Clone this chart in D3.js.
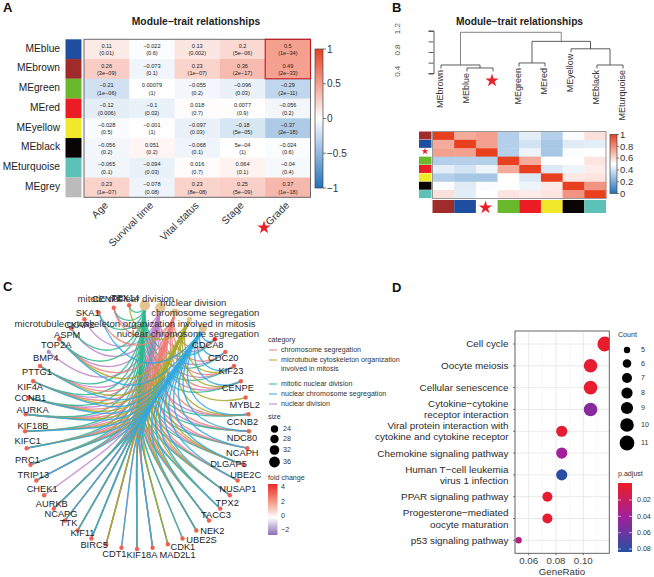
<!DOCTYPE html>
<html><head><meta charset="utf-8">
<script src="https://cdnjs.cloudflare.com/ajax/libs/d3/7.8.5/d3.min.js"></script>
<style>html,body{margin:0;padding:0;background:#fff}svg{display:block}text{font-family:"Liberation Sans",Arial,sans-serif}</style>
</head><body><svg id="c" width="654" height="577"></svg>
<script>
// ---------- Panel A data
const modules = ["MEblue","MEbrown","MEgreen","MEred","MEyellow","MEblack","MEturquoise","MEgrey"];
const moduleColors = ["#1f4ea1","#a02b2b","#6ab82b","#ec1c24","#f0e82a","#0a0505","#5cc1b6","#bbbbbb"];
const traits = ["Age","Survival time","Vital status","Stage","Grade"];
const corrValues = [
 [0.11,-0.022,0.13,0.2,0.5],
 [0.26,-0.073,0.23,0.36,0.49],
 [-0.21,0.00079,-0.055,-0.096,-0.29],
 [-0.12,-0.1,0.018,0.0077,-0.056],
 [-0.028,-0.001,-0.097,-0.18,-0.37],
 [-0.056,0.051,-0.068,5e-4,-0.024],
 [-0.065,-0.094,0.016,0.064,-0.04],
 [0.23,-0.078,0.23,0.25,0.37]];
const corrLabels = [
 ["0.11","−0.022","0.13","0.2","0.5"],
 ["0.26","−0.073","0.23","0.36","0.49"],
 ["−0.21","0.00079","−0.055","−0.096","−0.29"],
 ["−0.12","−0.1","0.018","0.0077","−0.056"],
 ["−0.028","−0.001","−0.097","−0.18","−0.37"],
 ["−0.056","0.051","−0.068","5e−04","−0.024"],
 ["−0.065","−0.094","0.016","0.064","−0.04"],
 ["0.23","−0.078","0.23","0.25","0.37"]];
const pLabels = [
 ["(0.01)","(0.6)","(0.002)","(5e−06)","(1e−34)"],
 ["(3e−09)","(0.1)","(1e−07)","(2e−17)","(2e−33)"],
 ["(1e−06)","(1)","(0.2)","(0.03)","(2e−11)"],
 ["(0.006)","(0.02)","(0.7)","(0.9)","(0.2)"],
 ["(0.5)","(1)","(0.03)","(5e−05)","(2e−18)"],
 ["(0.2)","(0.2)","(0.1)","(1)","(0.6)"],
 ["(0.1)","(0.03)","(0.7)","(0.1)","(0.4)"],
 ["(1e−07)","(0.08)","(8e−08)","(5e−09)","(1e−18)"]];
const corrTicks = [1,0.5,0,-0.5,-1];
// ---------- Panel B data
const dendroLeaves = ["MEbrown","MEblue","","MEgreen","MEred","MEyellow","MEblack","MEturquoise"];
const dendroColors = ["#a02b2b","#1f4ea1",null,"#6ab82b","#ec1c24","#f0e82a","#0a0505","#5cc1b6"];
const dendroMerges = [ // [id, left child, right child, height]; numbers are leaf indexes, strings are merge ids
 ["m1",1,2,0.50],["m2",0,"m1",0.556],["m3",3,4,0.594],["m4",6,7,0.556],
 ["m5",5,"m4",0.86],["m6","m3","m5",1.0],["m7","m2","m6",1.17]];
const dendroTicks = [1.2,1.0,0.8,0.6,0.4];
const dendroTickLabels = [1.2,0.8,0.4];
const adjacency = [
 [1,.72,.75,.33,.44,.33,.49,.58],
 [.72,1,.75,.33,.40,.30,.43,.44],
 [.75,.75,1,.33,.46,.30,.49,.50],
 [.33,.33,.33,1,.72,.50,.50,.57],
 [.44,.40,.46,.72,1,.42,.46,.55],
 [.33,.30,.30,.50,.42,1,.56,.57],
 [.49,.43,.49,.50,.46,.56,1,.78],
 [.58,.44,.50,.57,.55,.57,.78,1]];
const adjTicks = [1,0.8,0.6,0.4,0.2,0];
// ---------- Panel C data
const genes = ["CDCA8","CDC20","KIF23","CENPE","MYBL2","CCNB2","NDC80","NCAPH","DLGAP5","UBE2C","NUSAP1","TPX2","TACC3","NEK2","UBE2S","CDK1","MAD2L1","KIF18A","CDT1","BIRC5","KIF11","TTK","NCAPG","AURKB","CHEK1","TRIP13","PRC1","KIFC1","KIF18B","AURKA","CCNB1","KIF4A","PTTG1","BMP4","TOP2A","ASPM","CKAP2","SKA1","CENPF","TEX14"];
const foldChange = [4.4,3,3,3,3,3,3,3,3,3,3,3,3,3,3,3,3,3,3,3,3,3,3,3,3,3,3,3,3,3,3,3,3,-1.5,3,3,3,3,3,3];
const categories = ["mitotic nuclear division","nuclear division","chromosome segregation","microtubule cytoskeleton organization involved in mitosis","nuclear chromosome segregation"];
const categorySize = [36,36,30,24,30];
const legendCategories = ["chromosome segregation","microtubule cytoskeleton organization","mitotic nuclear division","nuclear chromosome segregation","nuclear division"];
const catColor = ["#2bb98c","#bf7fc8","#ee7f76","#a8a82a","#2fa8e0"];
const memMitotic = ["CDCA8","CDC20","KIF23","CENPE","CCNB2","NDC80","NCAPH","DLGAP5","UBE2C","NUSAP1","TACC3","NEK2","CDK1","MAD2L1","KIF18A","BIRC5","TTK","NCAPG","AURKB","TRIP13","PRC1","KIFC1","KIF18B","AURKA","CCNB1","KIF4A","PTTG1","TOP2A","ASPM","CENPF","TPX2","KIF11","UBE2C","TEX14","SKA1","UBE2S"];
const memDivision = ["CDC20","KIF23","CENPE","CCNB2","NDC80","NCAPH","DLGAP5","UBE2C","NUSAP1","TACC3","NEK2","UBE2S","CDK1","MAD2L1","KIF18A","BIRC5","TTK","NCAPG","AURKB","CHEK1","TRIP13","PRC1","KIFC1","KIF18B","AURKA","CCNB1","KIF4A","PTTG1","BMP4","TOP2A","ASPM","CKAP2","CENPF","TPX2","KIF11","CDCA8"];
const memChrom = ["CDCA8","CDC20","KIF23","CENPE","CCNB2","NDC80","NCAPH","DLGAP5","UBE2C","NUSAP1","NEK2","MAD2L1","KIF18A","CDT1","BIRC5","TTK","NCAPG","AURKB","TRIP13","PRC1","KIF18B","AURKA","CCNB1","KIF4A","PTTG1","TOP2A","SKA1","CENPF","KIFC1","TACC3"];
const memMicro = ["KIF23","CENPE","MYBL2","TPX2","BIRC5","KIF11","AURKA","KIF4A","KIFC1","NUSAP1","PRC1","TACC3","TEX14","CDK1","CCNB1","KIF18A","TTK","NEK2","KIF18B","DLGAP5","PTTG1","TOP2A","AURKB","CCNB2"];
const memNucChrom = ["CDCA8","CDC20","KIF23","CENPE","CCNB2","NDC80","NCAPH","DLGAP5","UBE2C","NUSAP1","TPX2","TACC3","NEK2","MAD2L1","KIF18A","CDT1","KIF11","TTK","NCAPG","AURKB","TRIP13","PRC1","KIFC1","KIF18B","CCNB1","PTTG1","TOP2A","SKA1","AURKA","KIF4A"];
const memberships = [memMitotic,memDivision,memChrom,memMicro,memNucChrom];
const sizeLegend = [24,28,32,36];
const foldTicks = [4,2,0,-2];
// ---------- Panel D data
const pathways = [["Cell cycle"],["Oocyte meiosis"],["Cellular senescence"],["Cytokine−cytokine","receptor interaction"],["Viral protein interaction with","cytokine and cytokine receptor"],["Chemokine signaling pathway"],["Human T−cell leukemia","virus 1 infection"],["PPAR signaling pathway"],["Progesterone−mediated","oocyte maturation"],["p53 signaling pathway"]];
const geneRatio = [0.1158,0.1053,0.1053,0.1053,0.0842,0.0842,0.0842,0.0737,0.0737,0.0526];
const geneCount = [11,10,10,10,8,8,8,7,7,5];
const pAdjust = [0.002,0.004,0.004,0.05,0.005,0.04,0.083,0.004,0.004,0.03];
const ratioTicks = [0.06,0.08,0.10];
const countLegend = [5,6,7,8,9,10,11];
const pTicks = [0.02,0.04,0.06,0.08];

const svg = d3.select("#c");
const defs = svg.append("defs");
const starPath = d3.symbol().type(d3.symbolStar);
function star(g,x,y,r){g.append("path").attr("d",starPath.size(r*r*1.12)()).attr("transform",`translate(${x},${y+r*.08})`).attr("fill","#e8202a");}
function gradient(id,stops){const gr=defs.append("linearGradient").attr("id",id).attr("x1",0).attr("x2",0).attr("y1",0).attr("y2",1);
 stops.forEach(([o,c])=>gr.append("stop").attr("offset",o).attr("stop-color",c));return `url(#${id})`;}
function letter(t,x,y){svg.append("text").attr("x",x).attr("y",y).attr("font-size",13).attr("font-weight","bold").attr("fill","#111").text(t);}
letter("A",3,12);letter("B",392,12);letter("C",3,291);letter("D",392,292);

// ================= Panel A
(function(){
 const g=svg.append("g");
 const x=d3.scaleBand().domain(traits).range([84,310.5]);
 const y=d3.scaleBand().domain(modules).range([39.3,197.3]);
 const col=d3.scaleLinear().domain([-1,0,1]).range(["#2272bf","#ffffff","#e8401f"]);
 g.append("text").attr("x",196).attr("y",24.5).attr("text-anchor","middle").attr("font-size",10.3).attr("font-weight","bold").attr("fill","#222").text("Module−trait relationships");
 modules.forEach((m,i)=>{
  g.append("rect").attr("x",65.5).attr("y",y(m)).attr("width",16).attr("height",y.bandwidth()).attr("fill",moduleColors[i]);
  g.append("text").attr("x",60).attr("y",y(m)+y.bandwidth()/2-1).attr("dy","0.35em").attr("text-anchor","end").attr("font-size",10.2).attr("fill","#222").text(m);
  traits.forEach((t,j)=>{
   g.append("rect").attr("x",x(t)).attr("y",y(m)).attr("width",x.bandwidth()+.5).attr("height",y.bandwidth()+.5).attr("fill",col(corrValues[i][j]));
   g.append("text").attr("x",x(t)+x.bandwidth()/2).attr("y",y(m)+8.5).attr("text-anchor","middle").attr("font-size",5.6).attr("fill","#222").text(corrLabels[i][j]);
   g.append("text").attr("x",x(t)+x.bandwidth()/2).attr("y",y(m)+16).attr("text-anchor","middle").attr("font-size",5.6).attr("fill","#222").text(pLabels[i][j]);
  });
 });
 g.append("rect").attr("x",84).attr("y",39.3).attr("width",226.5).attr("height",158).attr("fill","none").attr("stroke","#6b6b6b").attr("stroke-width",1);
 g.append("rect").attr("x",x("Grade")).attr("y",y("MEblue")).attr("width",x.bandwidth()).attr("height",y.bandwidth()*2).attr("fill","none").attr("stroke","#c5161d").attr("stroke-width",1.1);
 traits.forEach(t=>{
  g.append("text").attr("transform",`translate(${x(t)+x.bandwidth()/2-3},201) rotate(-45)`).attr("dy","0.7em").attr("text-anchor","end").attr("font-size",10.2).attr("fill","#333").text(t);
 });
 star(g,264,227,7);
 const cy=d3.scaleLinear().domain([-1,1]).range([188,49]);
 const fill=gradient("gA",[[0,"#e8401f"],[.5,"#ffffff"],[1,"#2272bf"]]);
 g.append("rect").attr("x",315).attr("y",49).attr("width",8).attr("height",139).attr("fill",fill).attr("stroke","#444").attr("stroke-width",.7);
 corrTicks.forEach(v=>{
  g.append("line").attr("x1",323).attr("x2",326).attr("y1",cy(v)).attr("y2",cy(v)).attr("stroke","#444").attr("stroke-width",.7);
  g.append("text").attr("x",327).attr("y",cy(v)).attr("dy","0.35em").attr("font-size",10).attr("fill","#333").text(v<0?"−"+(-v):v);
 });
})();

// ================= Panel B
(function(){
 const g=svg.append("g");
 g.append("text").attr("x",519.5).attr("y",24.5).attr("text-anchor","middle").attr("font-size",10.2).attr("font-weight","bold").attr("fill","#222").text("Module−trait relationships");
 const h=d3.scaleLinear().domain([0.4,1.2]).range([73.3,30.7]);
 const lx=d3.scalePoint().domain(d3.range(8)).range([441,623]);
 const ax=g.append("g").attr("transform","translate(433.5,0)").call(d3.axisLeft(h).tickValues(dendroTicks).tickFormat("").tickSize(5));
 ax.selectAll("path,line").attr("stroke","#333").attr("stroke-width",.8);
 dendroTickLabels.forEach(v=>g.append("text").attr("transform",`translate(400,${h(v)-2}) rotate(-90)`).attr("text-anchor","middle").attr("font-size",8).attr("fill","#555").text(v.toFixed(1)));
 const pos={};
 const stroke="#333";
 function node(c){return typeof c==="number"?{x:lx(c),leaf:c}:pos[c];}
 dendroMerges.forEach(([id,a,b,ht])=>{
  const A=node(a),B=node(b),yy=h(ht);
  const yA=A.leaf!==undefined?yy+3.5:A.y, yB=B.leaf!==undefined?yy+3.5:B.y;
  const p=d3.path();p.moveTo(A.x,yA);p.lineTo(A.x,yy);p.lineTo(B.x,yy);p.lineTo(B.x,yB);
  g.append("path").attr("d",p.toString()).attr("fill","none").attr("stroke",id==="m7"?"#666":stroke).attr("stroke-width",.8);
  pos[id]={x:(A.x+B.x)/2,y:yy};
  [A,B].forEach(N=>{ if(N.leaf!==undefined&&dendroLeaves[N.leaf]){
   g.append("text").attr("transform",`translate(${N.x+1.5},${yy+5}) rotate(-90)`).attr("text-anchor","end").attr("font-size",9).attr("fill","#333").text(dendroLeaves[N.leaf]);
  }});
 });
 star(g,492,80,7);
 const idx=d3.range(8);
 const x=d3.scaleBand().domain(idx).range([432.5,606]);
 const y=d3.scaleBand().domain(idx).range([131.5,198.5]);
 const col=d3.scaleLinear().domain([0,.5,1]).range(["#2272bf","#ffffff","#e8401f"]);
 adjacency.forEach((r,i)=>r.forEach((v,j)=>g.append("rect").attr("x",x(j)).attr("y",y(i)).attr("width",x.bandwidth()+.4).attr("height",y.bandwidth()+.4).attr("fill",col(v))));
 g.append("rect").attr("x",432.5).attr("y",131.5).attr("width",173.5).attr("height",67).attr("fill","none").attr("stroke","#999").attr("stroke-width",1);
 dendroColors.forEach((c,i)=>{
  if(c){g.append("rect").attr("x",419).attr("y",y(i)).attr("width",12.5).attr("height",y.bandwidth()-.4).attr("fill",c);
   g.append("rect").attr("x",x(i)).attr("y",200).attr("width",x.bandwidth()).attr("height",13).attr("fill",c);}
 });
 star(g,425,151,3.6);star(g,485.5,207,7);
 const cy=d3.scaleLinear().domain([0,1]).range([193.5,134.5]);
 const fill=gradient("gB",[[0,"#e8401f"],[.5,"#ffffff"],[1,"#2272bf"]]);
 g.append("rect").attr("x",610).attr("y",134.5).attr("width",7).attr("height",59).attr("fill",fill).attr("stroke","#444").attr("stroke-width",.7);
 adjTicks.forEach(v=>{
  g.append("line").attr("x1",617).attr("x2",619).attr("y1",cy(v)).attr("y2",cy(v)).attr("stroke","#444").attr("stroke-width",.7);
  g.append("text").attr("x",620).attr("y",cy(v)).attr("dy","0.35em").attr("font-size",9.5).attr("fill","#333").text(v);
 });
})();

// ================= Panel C
(function(){
 const g=svg.append("g");
 const cx=137,cy=427,rx=112,ry=122;
 const ang=d3.scaleLinear().domain([0,1]).range([44,52]); // degrees clockwise from top, per node index
 const px=a=>cx+rx*Math.sin(a*Math.PI/180), py=a=>cy-ry*Math.cos(a*Math.PI/180);
 const geneAng=new Map(genes.map((n,i)=>[n,ang(i)]));
 const ringAng=[ang(-5),ang(-4),ang(-3),ang(-2),ang(-1)];
 const edges=[];
 memberships.forEach((list,c)=>Array.from(new Set(list)).forEach(n=>edges.push({c,n})));
 const k=0.6;
 function toward(x,y,len){const dx=cx-x,dy=cy-y,d=Math.hypot(dx,dy);return [x+dx/d*len,y+dy/d*len];}
 [1,0,2,3,4].forEach(c=>{
  edges.filter(e=>e.c===c).forEach(e=>{
   const a0=ringAng[c],a1=geneAng.get(e.n);
   const x0=px(a0),y0=py(a0),x1=px(a1),y1=py(a1),chord=Math.hypot(x1-x0,y1-y0)*k;
   const c0=toward(x0,y0,chord),c1=toward(x1,y1,chord);
   const p=d3.path();p.moveTo(x0,y0);
   p.bezierCurveTo(c0[0],c0[1],c1[0],c1[1],x1,y1);
   g.append("path").attr("d",p.toString()).attr("fill","none").attr("stroke",catColor[c]).attr("stroke-width",1.35).attr("stroke-opacity",.85);
  });
 });
 const nodeR=d3.scaleSqrt().domain([24,36]).range([2.6,5.2]);
 categories.forEach((c,i)=>g.append("circle").attr("cx",px(ringAng[i])).attr("cy",py(ringAng[i])).attr("r",nodeR(categorySize[i])).attr("fill","#e5c494"));
 const fc=d3.scaleLinear().domain([-2,0,2.2,4.4]).range(["#8a6fb5","#ffffff","#f08a70","#ee1a1a"]);
 genes.forEach((n,i)=>g.append("circle").attr("cx",px(ang(i))).attr("cy",py(ang(i))).attr("r",2.2).attr("fill",fc(foldChange[i])));
 // label nudges from the repel layout, in gene order
 const labelNudge=[[-7,6],[-2,6],[-3,5],[-3,6],[-1,7],[-6,7],[-7,6],[-5,5],[-15,-1],[8,-6],[8,-6],[7,-6],[7,-6],[16,0],[19,1],[15,2],[25,7],[5,6],[-7,6],[-12,0],[-9,-6],[-9,-8],[-4,-7],[-2,-5],[-2,-6],[-3,-6],[-3,-5],[1,-7],[8,-6],[7,-5],[2,0],[-3,5],[-3,6],[-3,6],[-3,6],[-4,6],[-5,5],[-11,0],[-6,-9],[-4,-8]];
 genes.forEach((n,i)=>{
  const a=ang(i),o=labelNudge[i];
  g.append("text").attr("x",px(a)+o[0]).attr("y",py(a)+o[1]).attr("dy","0.35em").attr("text-anchor","middle").attr("font-size",9.3).attr("fill","#222").text(n);
 });
 const catLabelOffset=[[-19,-7],[33,-5],[30,0],[-54.5,4],[-15,5]];
 categories.forEach((c,i)=>{
  g.append("text").attr("x",px(ringAng[i])+catLabelOffset[i][0]).attr("y",py(ringAng[i])+catLabelOffset[i][1]).attr("dy","0.35em").attr("text-anchor","middle").attr("font-size",9.6).attr("fill","#333").text(c);
 });
 // legends
 const T=(t,x,y,s=7.1,f="#333")=>g.append("text").attr("x",x).attr("y",y).attr("dy","0.35em").attr("font-size",s).attr("fill",f).text(t);
 T("category",268,339.5);
 const legendColor=[catColor[2],catColor[3],catColor[0],catColor[4],catColor[1]];
 const ly=d3.scaleOrdinal().domain(legendCategories).range([350,360,384,394,404]);
 legendCategories.forEach((c,i)=>{
  g.append("line").attr("x1",269).attr("x2",277).attr("y1",ly(c)).attr("y2",ly(c)).attr("stroke",legendColor[i]).attr("stroke-width",1);
  T(c,281,ly(c));
 });
 T("involved in mitosis",281,368.5);
 T("size",268,417);
 const sy=d3.scaleOrdinal().domain(sizeLegend).range([429,439,450,462]);
 const sr=d3.scaleOrdinal().domain(sizeLegend).range([3.7,4.2,4.8,5.4]);
 sizeLegend.forEach(s=>{g.append("circle").attr("cx",274.5).attr("cy",sy(s)).attr("r",sr(s)).attr("fill","#000");T(s,283,sy(s));});
 T("fold change",268,478);
 const fb=d3.scaleLinear().domain([4.4,-2.7]).range([484,535]);
 const fill=gradient("gC",[[0,"#ee2a24"],[.35,"#f29a84"],[.66,"#ffffff"],[1,"#8a6fb5"]]);
 g.append("rect").attr("x",268).attr("y",484).attr("width",9.5).attr("height",51).attr("fill",fill);
 foldTicks.forEach(v=>T(v<0?"−"+(-v):v,281,fb(v)));
})();

// ================= Panel D
(function(){
 const g=svg.append("g");
 const x=d3.scaleLinear().domain([0.06,0.10]).range([528.7,583.3]);
 const y=d3.scalePoint().domain(d3.range(10)).range([344,540.3]);
 const X0=515,X1=609.3,Y0=331,Y1=553.3;
 defs.append("clipPath").attr("id","clipD").append("rect").attr("x",X0).attr("y",Y0).attr("width",X1-X0).attr("height",Y1-Y0);
 [0.05,0.07,0.09,0.11].forEach(v=>g.append("line").attr("x1",x(v)).attr("x2",x(v)).attr("y1",Y0).attr("y2",Y1).attr("stroke","#f0f0f0").attr("stroke-width",.5));
 ratioTicks.forEach(v=>g.append("line").attr("x1",x(v)).attr("x2",x(v)).attr("y1",Y0).attr("y2",Y1).attr("stroke","#e4e4e4").attr("stroke-width",.8));
 pathways.forEach((p,i)=>{
  g.append("line").attr("x1",X0).attr("x2",X1).attr("y1",y(i)).attr("y2",y(i)).attr("stroke","#e4e4e4").attr("stroke-width",.8);
  g.append("line").attr("x1",X0-2).attr("x2",X0).attr("y1",y(i)).attr("y2",y(i)).attr("stroke","#444").attr("stroke-width",.7);
  const n=p.length;
  p.forEach((t,k)=>g.append("text").attr("x",508.5).attr("y",y(i)+(k-(n-1)/2)*11.2).attr("dy","0.35em").attr("text-anchor","end").attr("font-size",9.9).attr("fill","#2a2a2a").text(t));
 });
 const r=d3.scaleOrdinal().domain(countLegend).range([3.2,4.3,5,5.6,6.1,6.8,7.4]);
 const col=d3.scaleLinear().domain([0,0.04,0.0837]).range(["#ee1c25","#a3209a","#2750a4"]);
 const pts=g.append("g").attr("clip-path","url(#clipD)");
 geneRatio.forEach((v,i)=>pts.append("circle").attr("cx",x(v)).attr("cy",y(i)).attr("r",r(geneCount[i])).attr("fill",col(pAdjust[i])));
 g.append("rect").attr("x",X0).attr("y",Y0).attr("width",X1-X0).attr("height",Y1-Y0).attr("fill","none").attr("stroke","#555").attr("stroke-width",.9);
 ratioTicks.forEach(v=>{
  g.append("line").attr("x1",x(v)).attr("x2",x(v)).attr("y1",Y1).attr("y2",Y1+2).attr("stroke","#444").attr("stroke-width",.7);
  g.append("text").attr("x",x(v)).attr("y",561).attr("dy","0.35em").attr("text-anchor","middle").attr("font-size",9.7).attr("fill","#444").text(v.toFixed(2));
 });
 g.append("text").attr("x",562).attr("y",572).attr("dy","0.35em").attr("text-anchor","middle").attr("font-size",9.7).attr("fill","#333").text("GeneRatio");
 const T=(t,x,y,s=7.1)=>g.append("text").attr("x",x).attr("y",y).attr("dy","0.35em").attr("font-size",s).attr("fill","#333").text(t);
 T("Count",618,335);
 const ly=d3.scaleOrdinal().domain(countLegend).range([350,363.5,378,393,408,425,443]);
 countLegend.forEach(c=>{g.append("circle").attr("cx",627).attr("cy",ly(c)).attr("r",r(c)).attr("fill","#000");T(c,641,ly(c));});
 T("p.adjust",618,474);
 const py=d3.scaleLinear().domain([0.02,0.08]).range([500,549]);
 const fill=gradient("gD",[[0,"#ee1c25"],[.48,"#a3209a"],[1,"#2750a4"]]);
 g.append("rect").attr("x",618).attr("y",483).attr("width",14).attr("height",69).attr("fill",fill);
 pTicks.forEach(v=>{
  g.append("line").attr("x1",618).attr("x2",621).attr("y1",py(v)).attr("y2",py(v)).attr("stroke","#fff").attr("stroke-width",.6);
  g.append("line").attr("x1",629).attr("x2",632).attr("y1",py(v)).attr("y2",py(v)).attr("stroke","#fff").attr("stroke-width",.6);
  T(v.toFixed(2),637,py(v));
 });
})();
</script></body></html>
